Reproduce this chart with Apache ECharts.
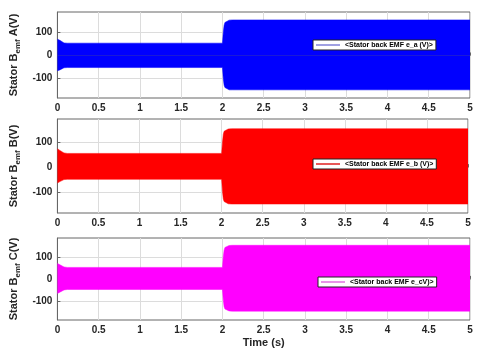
<!DOCTYPE html>
<html><head><meta charset="utf-8">
<script src="https://cdn.jsdelivr.net/npm/echarts@6/dist/echarts.min.js"></script>
<style>html,body{margin:0;padding:0;background:#fff}#c{width:480px;height:350px}</style>
</head><body><div id="c"></div>
<script>
// envelope of the fast oscillating back-EMF signals (time in s, V)
const time   = [0, 0.01, 0.03, 0.05, 0.08, 0.12, 2.0, 2.01, 2.02, 2.03, 2.05, 2.08, 2.12, 5];
const upperA = [70, 70, 65, 58, 54, 53, 53, 100, 130, 142, 149, 152, 153, 153];
const lowerA = [-66, -66, -62, -56, -53, -52, -52, -100, -128, -138, -145, -148, -148, -148];
const upperB = [74, 73, 67, 60, 57, 55, 55, 100, 132, 144, 150, 153, 154, 154];
const lowerB = [-64, -63, -58, -53, -50, -49, -49, -98, -128, -138, -144, -147, -148, -148];
const upperC = [70, 69, 64, 58, 54, 52, 52, 100, 130, 142, 148, 151, 152, 152];
const lowerC = [-66, -65, -60, -54, -50, -48, -48, -96, -126, -136, -142, -145, -146, -146];
const yTicks = [-100, 0, 100];
const phaseLabels = ['A(V)', 'B(V)', 'C(V)'];
const legendNames = ['<Stator back EMF e_a (V)>', '<Stator back EMF e_b (V)>', '<Stator back EMF e_cV)>'];
const xAxisTitle = 'Time (s)';

const uppers = [upperA, upperB, upperC];
const lowers = [lowerA, lowerB, lowerC];
const colors = ['#0000ff', '#ff0000', '#ff00ff'];
const legendColors = ['#8080d8', '#e02020', '#e070e0'];
const grids = [
  {left: 53, top: 12, right: 10, height: 86},
  {left: 54, top: 119, right: 12, height: 94},
  {left: 54, top: 238, right: 10, height: 82}
];
const yRanges = [[-183, 187], [-184, 193], [-186, 185]];
const legendPos = [{left: 313, top: 40}, {left: 313, top: 159}, {left: 318, top: 277}];
const FONT = 'Liberation Sans, Arial, sans-serif';
const TXT = '#262626';

const option = {
  animation: false,
  backgroundColor: '#fff',
  grid: grids.map(g => Object.assign({show: true, borderColor: '#666', borderWidth: 1, backgroundColor: '#fff'}, g)),
  xAxis: grids.map((g, i) => ({
    type: 'value', gridIndex: i, min: 0, max: 5, interval: 0.5,
    axisLine: {show: true, lineStyle: {color: '#666'}},
    axisTick: {show: true, inside: true, length: 3, lineStyle: {color: '#666'}},
    axisLabel: {fontFamily: FONT, fontWeight: 'bold', fontSize: 10, color: TXT, margin: 5},
    splitLine: {show: true, lineStyle: {color: '#dcdcdc', width: 1}},
    name: i === 2 ? xAxisTitle : '', nameLocation: 'middle', nameGap: 17,
    nameTextStyle: {fontFamily: FONT, fontWeight: 'bold', fontSize: 11, color: TXT}
  })),
  yAxis: grids.map((g, i) => ({
    type: 'value', gridIndex: i, min: yRanges[i][0], max: yRanges[i][1],
    axisLine: {show: true, lineStyle: {color: '#666'}},
    axisTick: {show: true, inside: true, length: 3, customValues: yTicks, lineStyle: {color: '#666'}},
    axisLabel: {fontFamily: FONT, fontWeight: 'bold', fontSize: 10, color: TXT, margin: 5, customValues: yTicks},
    splitLine: {show: true, lineStyle: {color: '#dcdcdc', width: 1}},
    name: '{a|Stator B}{s|emf}{a| ' + phaseLabels[i] + '}',
    nameLocation: 'middle', nameGap: 32,
    nameTextStyle: {rich: {
      a: {fontFamily: FONT, fontWeight: 'bold', fontSize: 11, color: TXT, lineHeight: 16},
      s: {fontFamily: FONT, fontWeight: 'bold', fontSize: 8, color: TXT, lineHeight: 10, verticalAlign: 'bottom'}
    }}
  })),
  legend: legendNames.map((n, i) => ({
    data: [{name: n, itemStyle: {color: legendColors[i]}}],
    left: legendPos[i].left, top: legendPos[i].top,
    icon: 'rect', itemWidth: 24, itemHeight: 1.5,
    padding: [1, 3, 1, 3],
    backgroundColor: '#fff', borderColor: '#222', borderWidth: 1, borderRadius: 0,
    selectedMode: false,
    textStyle: {fontFamily: FONT, fontWeight: 'bold', fontSize: 7, color: '#000', lineHeight: 8}
  })),
  series: []
};
for (let i = 0; i < 3; i++) {
  option.series.push({
    type: 'line', name: legendNames[i], xAxisIndex: i, yAxisIndex: i,
    data: time.map((t, k) => [t, uppers[i][k]]),
    showSymbol: false, symbol: 'none', lineStyle: {width: 0.5, color: colors[i]},
    itemStyle: {color: colors[i]},
    areaStyle: {color: colors[i], opacity: 1}
  });
  option.series.push({
    type: 'line', name: 'lower' + i, xAxisIndex: i, yAxisIndex: i,
    data: time.map((t, k) => [t, lowers[i][k]]),
    showSymbol: false, symbol: 'none', lineStyle: {width: 0.5, color: colors[i]},
    itemStyle: {color: colors[i]},
    areaStyle: {color: colors[i], opacity: 1}
  });
}
const chart = echarts.init(document.getElementById('c'), null, {renderer: 'canvas'});
chart.setOption(option);
</script></body></html>
